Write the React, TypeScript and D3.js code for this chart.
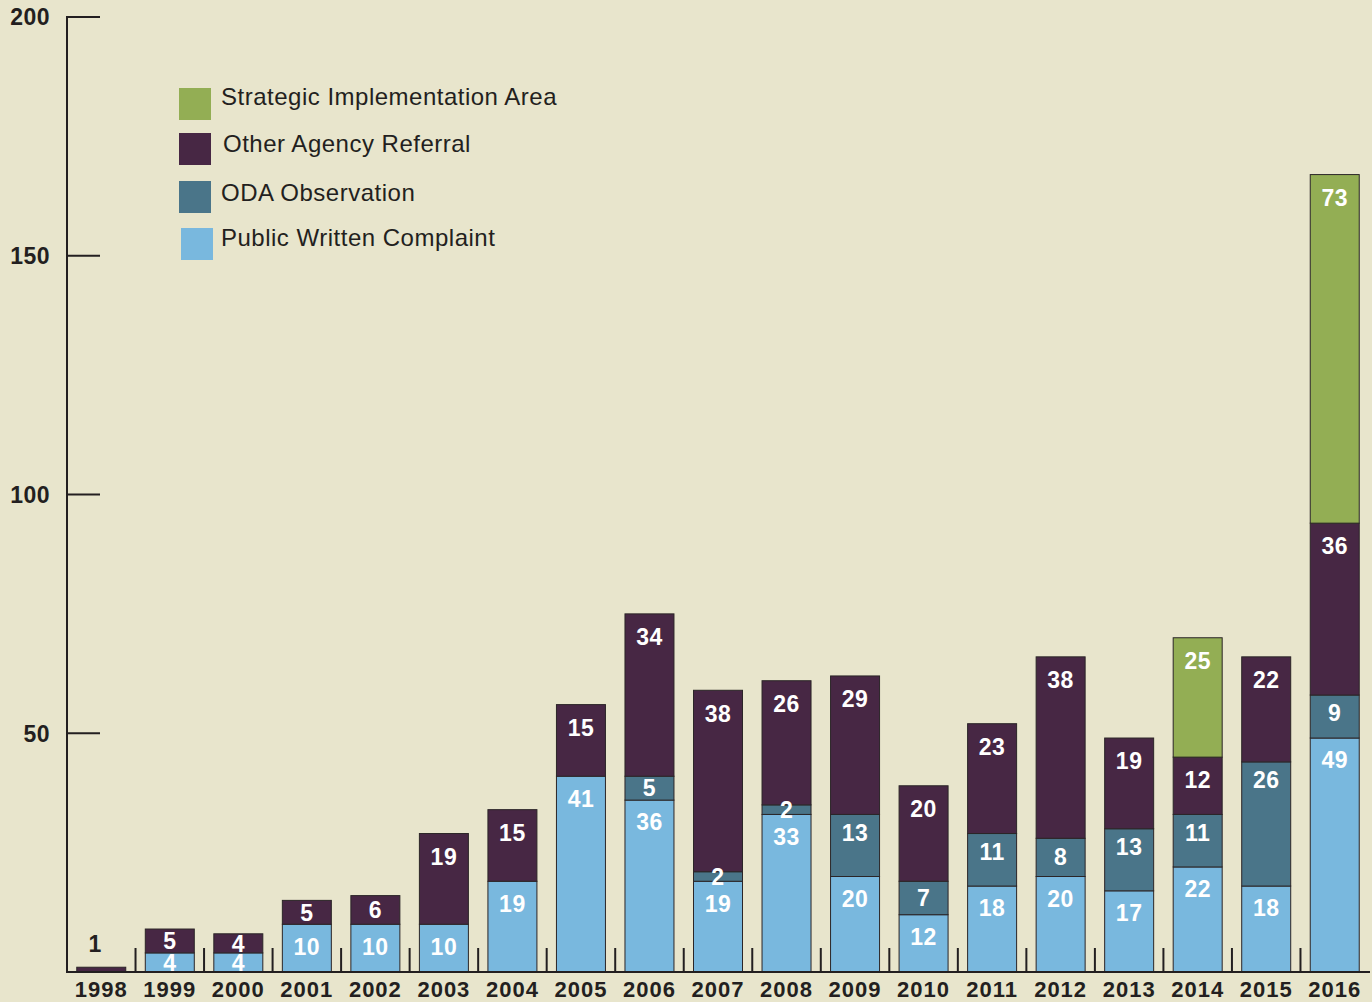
import React from 'react';
import * as d3 from 'd3';

const years = ['1998','1999','2000','2001','2002','2003','2004','2005','2006','2007','2008','2009','2010','2011','2012','2013','2014','2015','2016'];
const publicComplaint = [0, 4, 4, 10, 10, 10, 19, 41, 36, 19, 33, 20, 12, 18, 20, 17, 22, 18, 49];
const odaObservation = [0, 0, 0, 0, 0, 0, 0, 0, 5, 2, 2, 13, 7, 11, 8, 13, 11, 26, 9];
const otherAgency = [1, 5, 4, 5, 6, 19, 15, 15, 34, 38, 26, 29, 20, 23, 38, 19, 12, 22, 36];
const strategicArea = [0, 0, 0, 0, 0, 0, 0, 0, 0, 0, 0, 0, 0, 0, 0, 0, 25, 0, 73];
const yTicks = [50, 100, 150, 200];

const seriesNames = ['Public Written Complaint', 'ODA Observation', 'Other Agency Referral', 'Strategic Implementation Area'];
const seriesColors = ['#79b8de', '#4a7589', '#472744', '#93ae54'];
const legendOrder = [3, 2, 1, 0];

const W = 1372;
const H = 1002;
const font = '"Liberation Sans", Arial, Helvetica, sans-serif';
const ink = '#231f20';
// how far below a segment's top its value label sits
const labelDrop = [22, 18, 23, 23];

export default function App() {
  const rows = years.map((y, i) => ({
    year: y,
    s0: publicComplaint[i],
    s1: odaObservation[i],
    s2: otherAgency[i],
    s3: strategicArea[i],
  }));
  const stack = d3.stack<any>().keys(['s0', 's1', 's2', 's3'])(rows);

  const x = d3.scaleBand().domain(years).range([67, 1369]).paddingInner(0.285).paddingOuter(0.1425);
  const y = d3.scaleLinear().domain([0, 200]).range([972, 17]);

  // one entry per visible segment, so labels can be drawn on top of every rect
  const segs: any[] = [];
  stack.forEach((layer, si) => {
    layer.forEach((d, i) => {
      const v = d[1] - d[0];
      if (v <= 0) return;
      const top = y(d[1]);
      const bot = y(d[0]);
      const small = v < 2 && d[0] === 0;
      segs.push({
        si, v, top, bot, small,
        bx: x(years[i])!,
        cx: x(years[i])! + x.bandwidth() / 2,
        ly: small ? top - 24 : Math.min(top + labelDrop[si], (top + bot) / 2),
      });
    });
  });

  return (
    <svg width={W} height={H} style={{ position: 'absolute', left: 0, top: 0, background: '#e8e5cc' }}>
      <rect x={0} y={0} width={W} height={H} fill="#e8e5cc" />
      {segs.map((s, k) => (
        <rect key={k} x={s.bx} y={s.top} width={x.bandwidth()} height={s.bot - s.top}
          fill={seriesColors[s.si]} stroke="#2b2527" strokeWidth={1} />
      ))}
      {segs.map((s, k) => (
        <text key={k} x={s.small ? s.cx - 6 : s.cx} y={s.ly} dy="0.36em" textAnchor="middle" fontFamily={font}
          fontWeight="bold" fontSize={23} letterSpacing={0.5} fill={s.small ? ink : '#ffffff'}>{s.v}</text>
      ))}
      {/* axes */}
      <line x1={67} x2={67} y1={16} y2={973} stroke={ink} strokeWidth={2} />
      <line x1={66} x2={1370} y1={972} y2={972} stroke={ink} strokeWidth={2} />
      {yTicks.map(t => (
        <g key={t}>
          <line x1={67} x2={100} y1={y(t)} y2={y(t)} stroke={ink} strokeWidth={2} />
          <text x={50} y={y(t)} dy="0.36em" textAnchor="end" fontFamily={font} fontWeight="bold" fontSize={23} letterSpacing={0.5} fill={ink}>{t}</text>
        </g>
      ))}
      {years.slice(1).map(yr => {
        const tx = x(yr)! - (x.step() - x.bandwidth()) / 2;
        return <line key={yr} x1={tx} x2={tx} y1={948} y2={972} stroke={ink} strokeWidth={2} />;
      })}
      {years.map(yr => (
        <text key={yr} x={x(yr)! + x.bandwidth() / 2} y={997} textAnchor="middle" fontFamily={font} fontWeight="bold"
          fontSize={22} letterSpacing={1} fill={ink}>{yr}</text>
      ))}
      {/* legend */}
      {legendOrder.map((si, k) => {
        const ly = [88, 133, 181, 228][k];
        const lx = k === 3 ? 181 : 179;
        return (
          <g key={si}>
            <rect x={lx} y={ly} width={32} height={32} fill={seriesColors[si]} />
            <text x={k === 1 ? 223 : 221} y={[97, 144, 193, 238][k]} dy="0.35em" fontFamily={font} fontSize={24}
              letterSpacing={0.5} fill={ink}>{seriesNames[si]}</text>
          </g>
        );
      })}
    </svg>
  );
}
